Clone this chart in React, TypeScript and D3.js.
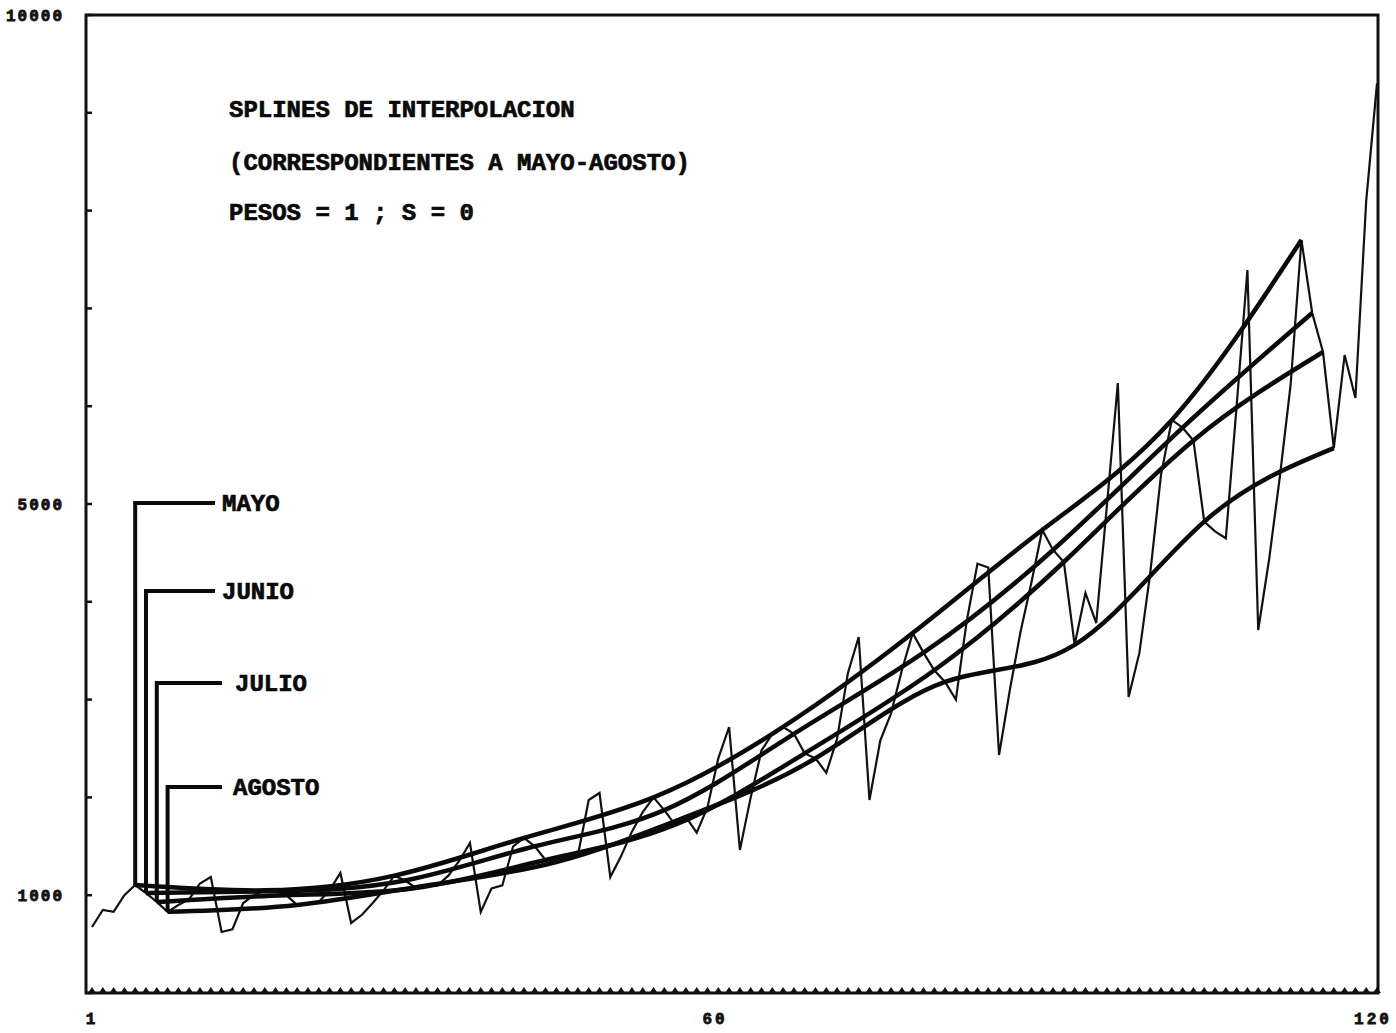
import React from 'react';
import * as d3 from 'd3';

// serie mensual (120 meses)
const meses = d3.range(1, 121);
const serie = [
  675, 849, 830, 1000, 1104, 1022, 931, 830, 900, 960, 1120, 1186,
  624, 650, 920, 1000, 1050, 1040, 1000, 900, 920, 930, 1050, 1227,
  716, 800, 920, 1050, 1200, 1150, 1074, 1100, 1100, 1200, 1350, 1534,
  828, 1070, 1100, 1500, 1585, 1500, 1360, 1340, 1380, 1411, 1973, 2045,
  1186, 1400, 1650, 1850, 2000, 1870, 1720, 1800, 1640, 1900, 2400, 2720,
  1462, 2000, 2480, 2650, 2720, 2650, 2450, 2400, 2250, 2600, 3270, 3640,
  1973, 2580, 2860, 3300, 3680, 3480, 3300, 3180, 3000, 3800, 4390, 4350,
  2434, 3100, 3700, 4200, 4734, 4530, 4407, 3560, 4090, 3783, 5000, 6237,
  3027, 3480, 4294, 5300, 5860, 5780, 5650, 4820, 4720, 4650, 6000, 7393,
  3712, 4427, 5276, 6217, 7700, 6953, 6554, 5572, 6523, 6084, 8100, 9300,
];

const nombresSplines = ['MAYO', 'JUNIO', 'JULIO', 'AGOSTO'];
const mesInicio = [5, 6, 7, 8];
const anios = d3.range(0, 10);

const titulo = [
  'SPLINES DE INTERPOLACION',
  '(CORRESPONDIENTES A MAYO-AGOSTO)',
  'PESOS = 1 ; S = 0',
];

const yTickLabels = [1000, 5000, 10000];
const yTicks = d3.range(0, 10001, 1000);
const xTickLabels = [1, 60, 120];

const W = 1396;
const H = 1033;
const x = d3.scaleLinear().domain([1, 120]).range([92, 1377]);
const y = d3.scaleLinear().domain([0, 10000]).range([993, 15]);

const fuente = '"Liberation Mono", "DejaVu Sans Mono", monospace';

export default function App() {
  const lineaSerie = d3
    .line<number>()
    .x((d, i) => x(meses[i]))
    .y((d) => y(d))
    .curve(d3.curveLinear);

  const lineaSpline = d3
    .line<[number, number]>()
    .x((d) => x(d[0]))
    .y((d) => y(d[1]))
    .curve(d3.curveNatural);

  const splines = mesInicio.map((m0) =>
    anios.map((k) => {
      const m = m0 + 12 * k;
      return [m, serie[m - 1]] as [number, number];
    })
  );

  // posicion de las etiquetas de la leyenda
  const leyenda = [
    { yl: 503, xFin: 215, xTxt: 222 },
    { yl: 591, xFin: 215, xTxt: 222 },
    { yl: 683, xFin: 222, xTxt: 235 },
    { yl: 787, xFin: 222, xTxt: 233 },
  ];

  const left = 86;
  const right = 1378;

  return (
    <svg
      width={W}
      height={H}
      style={{ position: 'absolute', left: 0, top: 0, background: '#fff' }}
    >
      {/* marco */}
      <path
        d={`M${left},${y(10000)} L${right},${y(10000)} L${right},${y(0)} L${left},${y(0)} Z`}
        fill="none"
        stroke="#111"
        strokeWidth={3}
      />
      {yTicks.map((t) => (
        <line key={t} x1={left} x2={left + 6} y1={y(t)} y2={y(t)} stroke="#111" strokeWidth={2.5} />
      ))}
      {meses.map((m) => (
        <path
          key={m}
          d={`M${x(m) - 4},${y(0)} L${x(m)},${y(0) - 6} L${x(m) + 4},${y(0)} Z`}
          fill="#111"
        />
      ))}

      {yTickLabels.map((t) => (
        <text
          key={t}
          x={64}
          y={y(t) + 6}
          textAnchor="end"
          fontFamily={fuente}
          fontWeight="bold"
          fontSize={16}
          letterSpacing={2}
          fill="#111"
          stroke="#111"
          strokeWidth={0.8}
        >
          {t}
        </text>
      ))}
      {xTickLabels.map((t) => (
        <text
          key={t}
          x={x(t) - (t === 60 ? 14 : t === 120 ? 4 : 0)}
          y={1024}
          textAnchor="middle"
          fontFamily={fuente}
          fontWeight="bold"
          fontSize={16}
          letterSpacing={3}
          fill="#111"
          stroke="#111"
          strokeWidth={0.8}
        >
          {t}
        </text>
      ))}

      {/* serie original */}
      <path d={lineaSerie(serie) || ''} fill="none" stroke="#111" strokeWidth={2.2} strokeLinejoin="miter" />

      {/* splines */}
      {splines.map((s, i) => (
        <path key={i} d={lineaSpline(s) || ''} fill="none" stroke="#0a0a0a" strokeWidth={4.5} />
      ))}

      {/* leyenda */}
      {nombresSplines.map((n, i) => {
        const m0 = mesInicio[i];
        const l = leyenda[i];
        return (
          <g key={n}>
            <path
              d={`M${x(m0)},${y(serie[m0 - 1])} L${x(m0)},${l.yl} L${l.xFin},${l.yl}`}
              fill="none"
              stroke="#0a0a0a"
              strokeWidth={4}
            />
            <text
              x={l.xTxt}
              y={l.yl + 8}
              fontFamily={fuente}
              fontWeight="bold"
              fontSize={24}
              fill="#0a0a0a"
              stroke="#0a0a0a"
              strokeWidth={0.7}
            >
              {n}
            </text>
          </g>
        );
      })}

      {titulo.map((t, i) => (
        <text
          key={i}
          x={229}
          y={[117, 170, 220][i]}
          fontFamily={fuente}
          fontWeight="bold"
          fontSize={24}
          fill="#0a0a0a"
          stroke="#0a0a0a"
          strokeWidth={0.7}
        >
          {t}
        </text>
      ))}
    </svg>
  );
}
